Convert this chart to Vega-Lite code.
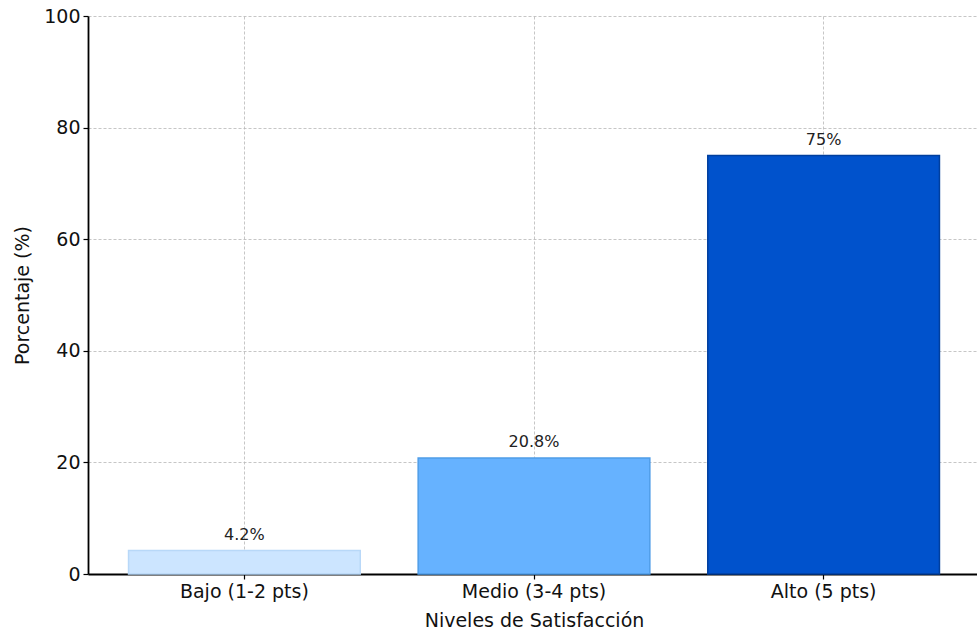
{
  "$schema": "https://vega.github.io/schema/vega-lite/v6.json",
  "autosize": {"type": "none"},
  "padding": {"left": 88, "top": 16, "right": 0, "bottom": 62},
  "width": 892,
  "height": 558,
  "background": "white",
  "data": {
    "values": [
      {"nivel": "Bajo (1-2 pts)", "porcentaje": 4.2, "etiqueta": "4.2%"},
      {"nivel": "Medio (3-4 pts)", "porcentaje": 20.8, "etiqueta": "20.8%"},
      {"nivel": "Alto (5 pts)", "porcentaje": 75, "etiqueta": "75%"}
    ]
  },
  "config": {
    "font": "DejaVu Sans",
    "view": {"stroke": null},
    "axis": {
      "zindex": 1,
      "domainColor": "#000000",
      "domainWidth": 1.8,
      "tickColor": "#000000",
      "tickSize": 5,
      "tickWidth": 1.2,
      "labelFont": "DejaVu Sans",
      "labelFontSize": 19,
      "labelColor": "#111111",
      "titleFont": "DejaVu Sans",
      "titleFontSize": 19,
      "titleFontWeight": "normal",
      "titleColor": "#111111",
      "grid": true,
      "gridColor": "#b8b8b8",
      "gridOpacity": 0.8,
      "gridDash": [3, 2],
      "gridWidth": 1
    }
  },
  "layer": [
    {
      "mark": {"type": "bar", "strokeWidth": 1.5},
      "encoding": {
        "x": {
          "field": "nivel",
          "type": "nominal",
          "sort": null,
          "scale": {"paddingInner": 0.2, "paddingOuter": 0.14},
          "axis": {"labelAngle": 0, "labelPadding": 3, "title": "Niveles de Satisfacción", "titlePadding": 10}
        },
        "y": {
          "field": "porcentaje",
          "type": "quantitative",
          "scale": {"domain": [0, 100], "nice": false},
          "axis": {"values": [0, 20, 40, 60, 80, 100], "title": "Porcentaje (%)", "labelPadding": 3, "titlePadding": 11}
        },
        "fill": {
          "field": "nivel",
          "type": "nominal",
          "scale": {"domain": ["Bajo (1-2 pts)", "Medio (3-4 pts)", "Alto (5 pts)"], "range": ["#cce5ff", "#66b2ff", "#0052cc"]},
          "legend": null
        },
        "stroke": {
          "field": "nivel",
          "type": "nominal",
          "scale": {"domain": ["Bajo (1-2 pts)", "Medio (3-4 pts)", "Alto (5 pts)"], "range": ["#b8d8f8", "#4f9de8", "#003f9e"]},
          "legend": null
        }
      }
    },
    {
      "mark": {"type": "text", "baseline": "bottom", "dy": -8, "fontSize": 16, "color": "#222222", "font": "DejaVu Sans"},
      "encoding": {
        "x": {"field": "nivel", "type": "nominal", "sort": null},
        "y": {"field": "porcentaje", "type": "quantitative"},
        "text": {"field": "etiqueta"}
      }
    }
  ]
}
